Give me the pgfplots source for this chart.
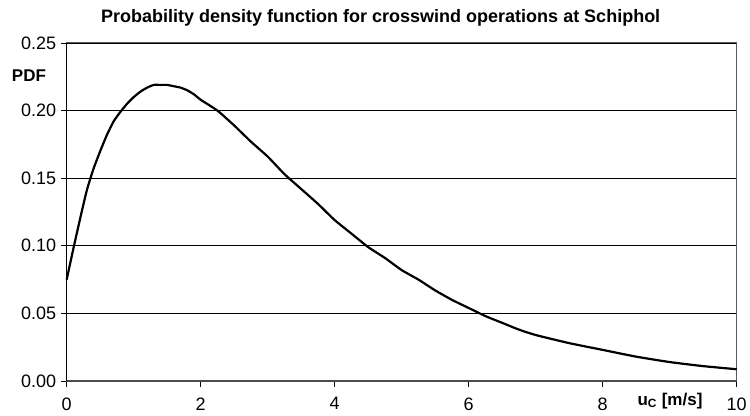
\documentclass[border=0pt]{standalone}
\usepackage{pgfplots}
\pgfplotsset{compat=1.18}
\usepackage{fontspec}
\setmainfont{Liberation Sans}
\begin{document}
\begin{tikzpicture}
\useasboundingbox (-66.7bp,-35bp) rectangle (683.3bp,381bp);
\begin{axis}[
  at={(0,0)}, anchor=south west,
  scale only axis, width=670bp, height=338bp,
  xmin=0, xmax=10, ymin=0, ymax=0.25,
  xtick={0,2,4,6,8,10},
  ytick={0,0.05,0.10,0.15,0.20,0.25},
  tick pos=left, tick align=outside,
  major tick length=6bp,
  tick style={black, line width=0.6bp},
  ymajorgrids, grid style={black, line width=0.8bp},
  axis line style={draw=gray!70!black, line width=1bp},
  /pgf/number format/assume math mode=true,
  yticklabel style={/pgf/number format/fixed, /pgf/number format/fixed zerofill, /pgf/number format/precision=2, xshift=-1bp},
  ticklabel style={font=\fontsize{18bp}{21bp}\selectfont},
  xticklabel style={yshift=-7bp},
  clip=false,
]
\addplot[black, line width=2.2bp, smooth, tension=0.3] coordinates {
(0,0.075) (0.1,0.098) (0.2,0.120) (0.3,0.141) (0.4,0.157) (0.5,0.170)
(0.6,0.182) (0.7,0.192) (0.8,0.199) (0.9,0.205) (1.0,0.210) (1.1,0.214)
(1.2,0.217) (1.3,0.219) (1.4,0.219) (1.5,0.219) (1.6,0.218) (1.7,0.217)
(1.8,0.215) (1.9,0.212) (2.0,0.208) (2.25,0.200) (2.5,0.189) (2.75,0.177)
(3.0,0.166) (3.25,0.153) (3.5,0.142) (3.75,0.131) (4.0,0.119) (4.25,0.109)
(4.5,0.099) (4.75,0.091) (5.0,0.082) (5.25,0.075) (5.5,0.067) (5.75,0.060)
(6.0,0.054) (6.25,0.048) (6.5,0.043) (6.75,0.038) (7.0,0.034) (7.5,0.028)
(8.0,0.023) (8.5,0.018) (9.0,0.014) (9.5,0.011) (10.0,0.0087)
};
\draw[black, line width=1bp] (rel axis cs:0,0) -- (rel axis cs:0,1);
\draw[black!70, line width=1.6bp] (rel axis cs:0,0) -- (rel axis cs:1,0);
\end{axis}
\node[anchor=base, font=\bfseries\fontsize{18bp}{21bp}\selectfont] at (314bp,358bp) {Probability density function for crosswind operations at Schiphol};
\node[anchor=base, font=\bfseries\fontsize{17bp}{20bp}\selectfont] at (-37.7bp,299bp) {PDF};
\node[anchor=base, font=\bfseries\fontsize{17bp}{20bp}\selectfont] at (603.3bp,-24bp) {u\textsubscript{C} [m/s]};
\end{tikzpicture}
\end{document}
